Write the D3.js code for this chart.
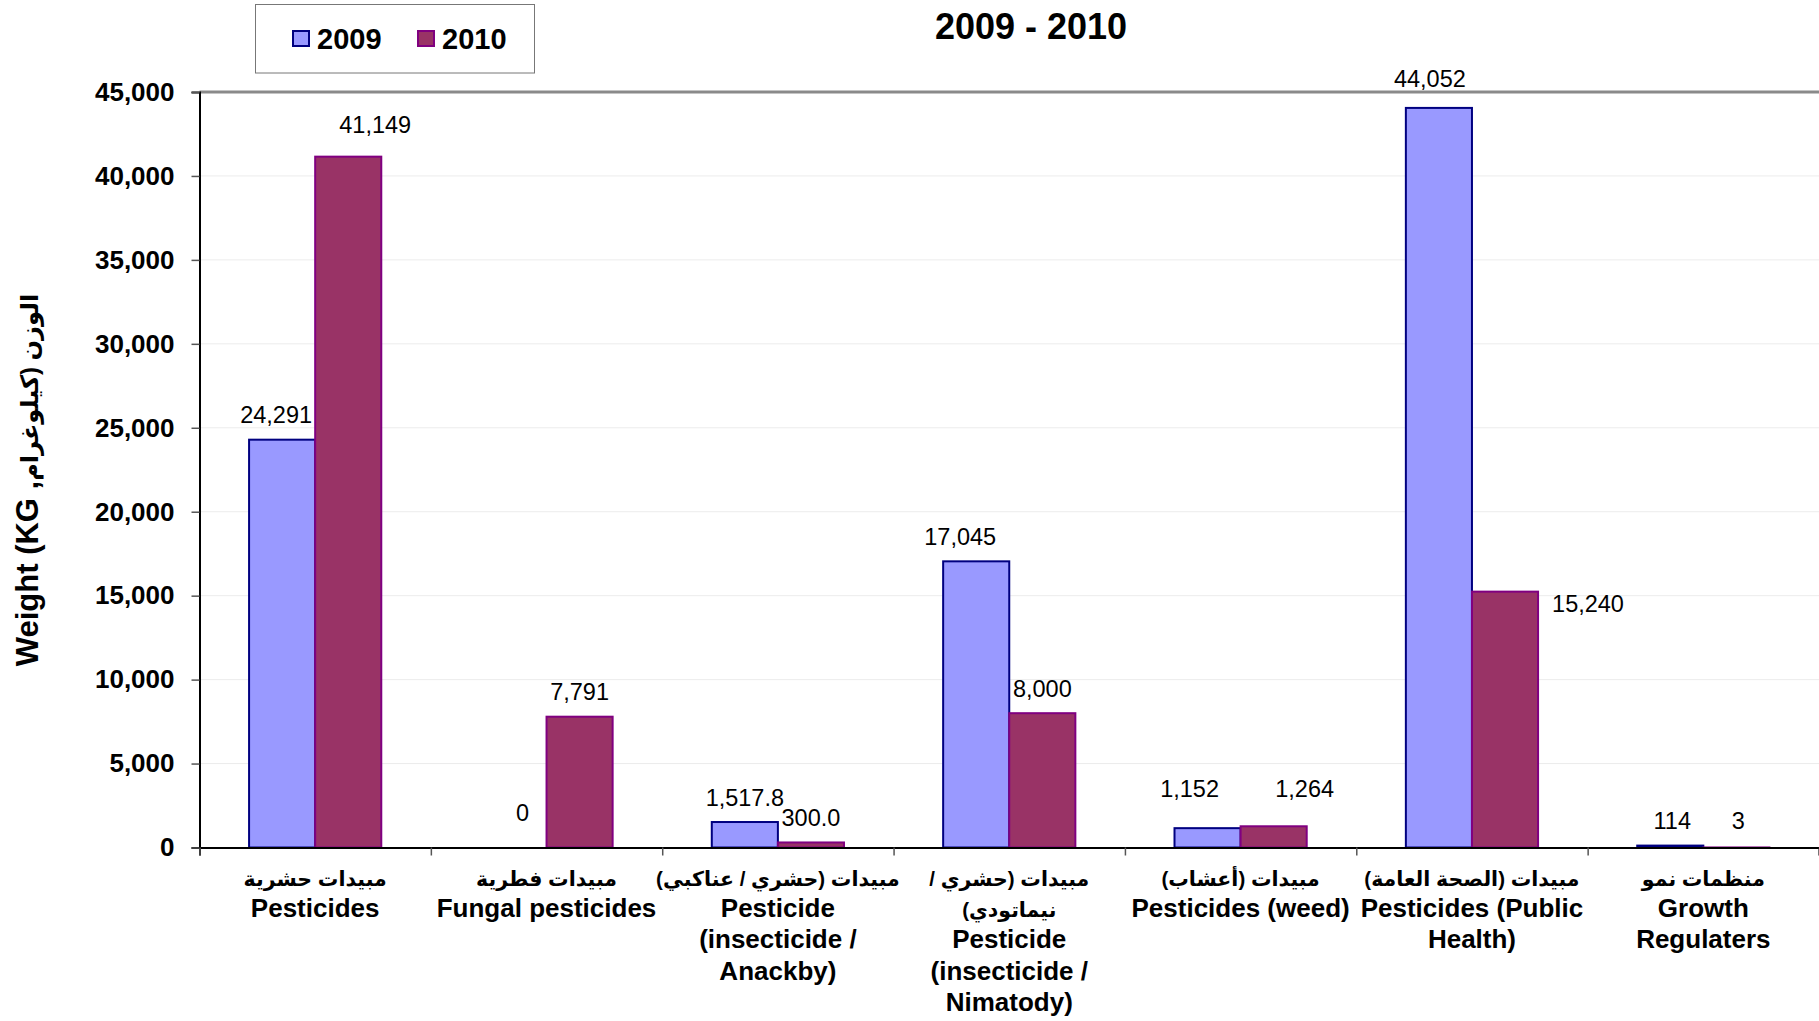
<!DOCTYPE html>
<html>
<head>
<meta charset="utf-8">
<script src="https://cdn.jsdelivr.net/npm/d3@7"></script>
<style>
  html, body { margin: 0; padding: 0; background: #fff; }
  svg { display: block; font-family: "Liberation Sans", Arial, "DejaVu Sans", sans-serif; }
</style>
</head>
<body>
<svg id="chart" width="1819" height="1021"></svg>
<script>
// Category labels: Arabic line(s) first, then English line(s)
const categoryArabic = [
  ["مبيدات حشرية"],
  ["مبيدات فطرية"],
  ["مبيدات (حشري / عناكبي)"],
  ["مبيدات (حشري /", "نيماتودي)"],
  ["مبيدات (أعشاب)"],
  ["مبيدات (الصحة العامة)"],
  ["منظمات نمو"]
];
const categoryEnglish = [
  ["Pesticides"],
  ["Fungal pesticides"],
  ["Pesticide", "(insecticide /", "Anackby)"],
  ["Pesticide", "(insecticide /", "Nimatody)"],
  ["Pesticides (weed)"],
  ["Pesticides (Public", "Health)"],
  ["Growth", "Regulaters"]
];
const seriesNames = ["2009", "2010"];
const values2009 = [24291, 0, 1517.8, 17045, 1152, 44052, 114];
const values2010 = [41149, 7791, 300.0, 8000, 1264, 15240, 3];
const labelDecimals = [0, 0, 1, 0, 0, 0, 0];
const yTickValues = [0, 5000, 10000, 15000, 20000, 25000, 30000, 35000, 40000, 45000];
const titleText = "2009 - 2010";
const yAxisTitleEn = "Weight (KG ,";
const yAxisTitleAr = "الوزن (كيلوغرام";

// Hand-placed data label nudges (px) per category, [2009, 2010]
const labelNudges = [
  [[-6, 0], [27, -7]],
  [[9, -10], [0, 0]],
  [[0, 0], [0, 0]],
  [[-16, 0], [0, 0]],
  [[-18, -15], [31, -13]],
  [[-9, -4], [83, 36.5]],
  [[2, 0], [2, -2]]
];

const seriesFill = ["#9999FF", "#993366"];
const seriesStroke = ["#000080", "#800080"];

const svg = d3.select("#chart");
const plot = { left: 199.5, right: 1819, top: 92, bottom: 847.5 };

const idx = d3.range(categoryEnglish.length);
const x = d3.scaleBand().domain(idx).range([plot.left, plot.right]).padding(0);
const xs = d3.scaleBand().domain([0, 1]).range([0, x.bandwidth()]).paddingInner(0).paddingOuter(0.75);
const y = d3.scaleLinear().domain([0, 45000]).range([plot.bottom, plot.top]);

const rows = idx.map(i => ({ i, vals: [values2009[i], values2010[i]] }));

// Gridlines
svg.append("g")
  .selectAll("line")
  .data(yTickValues.filter(v => v > 0 && v < 45000))
  .join("line")
  .attr("x1", plot.left).attr("x2", plot.right)
  .attr("y1", d => y(d)).attr("y2", d => y(d))
  .attr("stroke", "#ececec").attr("stroke-width", 1);

// Top border of the plot area
svg.append("line")
  .attr("x1", plot.left).attr("x2", plot.right)
  .attr("y1", y(45000)).attr("y2", y(45000))
  .attr("stroke", "#8a8a8a").attr("stroke-width", 3);

// Bars
const groups = svg.append("g").selectAll("g")
  .data(rows).join("g")
  .attr("transform", d => `translate(${x(d.i)},0)`);

groups.selectAll("rect")
  .data(d => d.vals.map((v, s) => ({ v, s })))
  .join("rect")
  .attr("x", d => xs(d.s))
  .attr("width", xs.bandwidth())
  .attr("y", d => y(d.v))
  .attr("height", d => y(0) - y(d.v))
  .attr("fill", d => seriesFill[d.s])
  .attr("stroke", d => seriesStroke[d.s])
  .attr("stroke-width", 2);

// Y axis
const yAxis = svg.append("g")
  .attr("transform", `translate(${plot.left},0)`)
  .call(d3.axisLeft(y).tickValues(yTickValues).tickFormat(d3.format(",")).tickSize(8).tickPadding(17));
yAxis.select(".domain").attr("stroke", "#000").attr("stroke-width", 2);
yAxis.selectAll(".tick line").attr("stroke", "#555").attr("stroke-width", 1.5);
yAxis.selectAll(".tick text")
  .attr("font-size", 26).attr("font-weight", "bold").attr("fill", "#000")
  .attr("font-family", "Liberation Sans, Arial, sans-serif");

// X axis with ticks between categories
const xb = d3.scaleLinear().domain([0, idx.length]).range([plot.left, plot.right]);
const xAxis = svg.append("g")
  .attr("transform", `translate(0,${plot.bottom})`)
  .call(d3.axisBottom(xb).tickValues(d3.range(idx.length + 1)).tickFormat("").tickSize(8));
xAxis.select(".domain").attr("stroke", "#000").attr("stroke-width", 2);
xAxis.selectAll(".tick line").attr("stroke", "#555").attr("stroke-width", 1.5);

// Category labels
const lineStep = 31.2;
const firstBaseline = 886;
svg.append("g").selectAll("text")
  .data(idx.flatMap(i => {
    const lines = categoryArabic[i].map(t => ({ t, ar: true }))
      .concat(categoryEnglish[i].map(t => ({ t, ar: false })));
    return lines.map((l, k) => ({ ...l, i, k }));
  }))
  .join("text")
  .attr("x", d => x(d.i) + x.bandwidth() / 2)
  .attr("y", d => firstBaseline + d.k * lineStep)
  .attr("text-anchor", "middle")
  .attr("direction", d => d.ar ? "rtl" : "ltr")
  .attr("font-size", d => d.ar ? 20.5 : 26)
  .attr("font-weight", "bold")
  .attr("fill", "#000")
  .text(d => d.t);

// Data labels
svg.append("g").selectAll("text")
  .data(rows.flatMap(r => r.vals.map((v, s) => ({ v, s, i: r.i }))))
  .join("text")
  .attr("x", d => x(d.i) + xs(d.s) + xs.bandwidth() / 2 + labelNudges[d.i][d.s][0])
  .attr("y", d => y(d.v) - 16.5 + labelNudges[d.i][d.s][1])
  .attr("text-anchor", "middle")
  .attr("font-size", 23.5)
  .attr("fill", "#000")
  .text(d => d3.format(labelDecimals[d.i] ? ",.1f" : ",.0f")(d.v));

// Y axis title
const yTitle = svg.append("text")
  .attr("transform", "translate(38,480) rotate(-90)")
  .attr("text-anchor", "middle")
  .attr("font-weight", "bold")
  .attr("fill", "#000");
yTitle.append("tspan").attr("font-size", 31).text(yAxisTitleEn);
yTitle.append("tspan").attr("font-size", 24).text(yAxisTitleAr);

// Chart title
svg.append("text")
  .attr("x", 1031).attr("y", 39)
  .attr("text-anchor", "middle")
  .attr("font-size", 36)
  .attr("font-weight", "bold")
  .attr("fill", "#000")
  .text(titleText);

// Legend
const legend = svg.append("g");
legend.append("rect")
  .attr("x", 255.5).attr("y", 4.5).attr("width", 279).attr("height", 68.5)
  .attr("fill", "#fff").attr("stroke", "#777").attr("stroke-width", 1);
const legendX = [293, 418];
seriesNames.forEach((name, s) => {
  legend.append("rect")
    .attr("x", legendX[s]).attr("y", 31).attr("width", 16).attr("height", 15)
    .attr("fill", seriesFill[s]).attr("stroke", seriesStroke[s]).attr("stroke-width", 2);
  legend.append("text")
    .attr("x", legendX[s] + 24).attr("y", 49)
    .attr("font-size", 29).attr("font-weight", "bold").attr("fill", "#000")
    .text(name);
});
</script>
</body>
</html>
